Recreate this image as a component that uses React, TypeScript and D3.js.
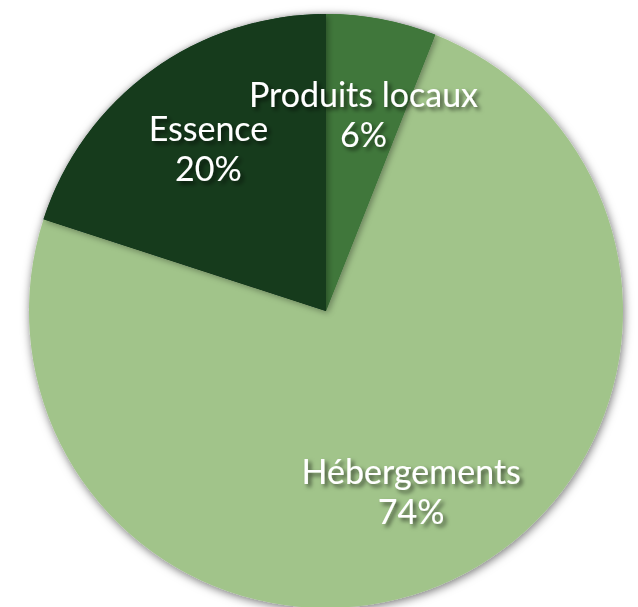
import React from "react";
import * as d3 from "d3";

const categories = ["Produits locaux", "Hébergements", "Essence"];
const values = [6, 74, 20];
const colors = ["#3f773a", "#a1c48a", "#143a1c"];

const W = 638;
const H = 607;
const cx = 326;
const cy = 311;
const R = 297;
const labelR = 200;

export default function App() {
  const pie = d3.pie<number>().sort(null).value((d) => d);
  const arcs = pie(values);
  const arc = d3.arc<d3.PieArcDatum<number>>().innerRadius(0).outerRadius(R);
  const labelArc = d3.arc<d3.PieArcDatum<number>>().innerRadius(labelR).outerRadius(labelR);
  const fmt = (v: number) => `${v}%`;
  return (
    <svg width={W} height={H} style={{ position: "absolute", left: 0, top: 0 }}>
      <defs>
        <filter id="pieShadow" x="-10%" y="-10%" width="120%" height="120%">
          <feDropShadow dx="1" dy="2" stdDeviation="5" floodColor="#000" floodOpacity="0.55" />
        </filter>
        <filter id="sliceShadow" x="-10%" y="-10%" width="120%" height="120%">
          <feDropShadow dx="2" dy="2" stdDeviation="3" floodColor="#000" floodOpacity="0.35" />
        </filter>
        <filter id="textShadow" x="-20%" y="-40%" width="140%" height="180%">
          <feDropShadow dx="3" dy="3" stdDeviation="2" floodColor="#000" floodOpacity="0.6" />
        </filter>
      </defs>
      <rect width={W} height={H} fill="#fff" />
      <g transform={`translate(${cx},${cy})`}>
        <g filter="url(#pieShadow)">
          {arcs.map((a, i) => (
            <path key={"b" + i} d={arc(a) || ""} fill={colors[i]} />
          ))}
        </g>
        {arcs.map((a, i) =>
          i === 1 ? null : (
            <path key={"s" + i} d={arc(a) || ""} fill={colors[i]} filter="url(#sliceShadow)" />
          )
        )}
        <g
          filter="url(#textShadow)"
          fill="#fff"
          fontFamily="Lato, 'Open Sans', sans-serif"
          fontSize={34}
          textAnchor="middle"
        >
          {arcs.map((a, i) => {
            const [x, y] = labelArc.centroid(a);
            return (
              <text key={"t" + i} x={x} y={y}>
                <tspan x={x} dy={-8}>{categories[i]}</tspan>
                <tspan x={x} dy={40}>{fmt(values[i])}</tspan>
              </text>
            );
          })}
        </g>
      </g>
    </svg>
  );
}
